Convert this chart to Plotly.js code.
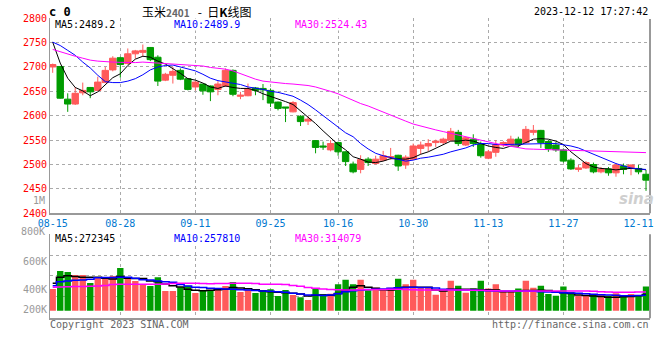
<!DOCTYPE html>
<html><head><meta charset="utf-8">
<script src="https://cdn.plot.ly/plotly-3.0.1.min.js"></script>
<style>html,body{margin:0;padding:0;background:#fff}#c{width:660px;height:360px}</style>
</head><body><div id="c"></div>
<script>
const dates = ['08-15','08-16','08-17','08-18','08-21','08-22','08-23','08-24','08-25','08-28','08-29','08-30','08-31',
 '09-01','09-04','09-05','09-06','09-07','09-08','09-11','09-12','09-13','09-14','09-15','09-18','09-19','09-20','09-21','09-22','09-25','09-26','09-27','09-28',
 '10-09','10-10','10-11','10-12','10-13','10-16','10-17','10-18','10-19','10-20','10-23','10-24','10-25','10-26','10-27','10-30','10-31',
 '11-01','11-02','11-03','11-06','11-07','11-08','11-09','11-10','11-13','11-14','11-15','11-16','11-17','11-20','11-21','11-22','11-23','11-24','11-27','11-28','11-29','11-30',
 '12-01','12-04','12-05','12-06','12-07','12-08','12-11','12-12'];
const open = [2700,2701,2634,2624,2647,2658,2652,2668,2694,2719, 2707,2727,2730,2740,2720,2673,2683,2693,2676,2659,
 2665,2661,2654,2661,2693,2640,2641,2657,2656,2652, 2628,2618,2608,2599,2589,2549,2538,2530,2545,2526,
 2501,2490,2511,2502,2509,2514,2519,2499,2511,2533, 2538,2545,2545,2550,2566,2540,2552,2543,2513,2525,
 2540,2541,2552,2545,2566,2570,2547,2540,2530,2509, 2490,2493,2500,2485,2491,2483,2497,2493,2492,2480];
const high = [2707,2702,2646,2659,2668,2659,2680,2700,2722,2721, 2738,2735,2746,2741,2724,2688,2700,2697,2677,2671,
 2665,2662,2671,2697,2695,2649,2666,2659,2665,2656, 2629,2618,2630,2601,2599,2550,2547,2550,2547,2527,
 2506,2519,2515,2518,2528,2534,2520,2519,2543,2547, 2552,2551,2555,2575,2571,2557,2562,2547,2530,2550,
 2548,2559,2557,2579,2581,2571,2550,2546,2533,2513, 2499,2507,2504,2495,2495,2502,2502,2500,2499,2489];
const low = [2688,2635,2608,2622,2642,2636,2651,2667,2691,2678, 2705,2717,2721,2712,2661,2671,2666,2673,2652,2652,
 2643,2630,2642,2659,2640,2634,2640,2642,2632,2618, 2611,2587,2607,2579,2581,2523,2530,2527,2518,2497,
 2482,2482,2497,2500,2507,2510,2487,2491,2509,2521, 2527,2536,2540,2548,2538,2538,2536,2514,2511,2516,
 2536,2540,2536,2543,2560,2534,2526,2526,2504,2489, 2485,2491,2482,2482,2477,2475,2480,2478,2480,2446];
const close = [2705,2636,2624,2646,2652,2649,2669,2693,2718,2705, 2727,2733,2734,2715,2671,2685,2691,2675,2654,2669,
 2651,2649,2665,2693,2644,2642,2655,2652,2653,2626, 2615,2616,2627,2588,2593,2535,2536,2543,2526,2506,
 2485,2510,2504,2511,2518,2516,2497,2515,2538,2540, 2543,2548,2552,2568,2543,2555,2543,2518,2526,2541,
 2545,2552,2541,2572,2570,2545,2533,2530,2507,2491, 2493,2504,2485,2491,2483,2499,2490,2499,2485,2468];
const ma5 = [2751,2708,2677,2658,2651,2641,2649,2663,2678,2686, 2703,2716,2722,2720,2712,2706,2697,2687,2676,2673,
 2667,2659,2656,2661,2658,2656,2656,2652,2645,2640, 2634,2629,2623,2610,2598,2584,2569,2555,2541,2530,
 2516,2511,2505,2504,2507,2512,2511,2511,2514,2521, 2526,2533,2541,2548,2548,2550,2548,2543,2538,2535,
 2533,2538,2538,2545,2552,2553,2552,2548,2541,2526, 2513,2502,2495,2492,2491,2489,2491,2492,2491,2489.2];
const ma10 = [2751,2744,2734,2724,2710,2698,2683,2670,2668,2668, 2671,2676,2684,2694,2700,2703,2704,2700,2696,2692,
 2685,2677,2672,2669,2666,2664,2659,2657,2654,2650, 2648,2644,2640,2632,2623,2612,2600,2588,2576,2565,
 2557,2543,2532,2523,2518,2514,2511,2507,2509,2513, 2515,2518,2521,2526,2530,2534,2540,2543,2543,2541,
 2541,2541.5,2541.5,2542.5,2543,2543,2543,2543,2541,2538, 2534,2527.5,2521,2514,2507,2502,2497,2493,2491,2489.9];
const ma30 = [2736,2731,2726,2722,2718,2714,2712,2710.5,2710,2709.5, 2709,2709,2710,2709,2708.5,2708,2707,2706,2705,2704,
 2702,2699,2697.5,2695.5,2692,2686,2680,2675,2671,2669, 2667,2666,2665,2664,2662,2659,2655,2650,2645,2638,
 2632,2625,2620,2613.5,2607,2601,2595,2589,2583,2578.5, 2574,2571,2567.5,2564,2560,2556,2552,2549,2545,2543,
 2540,2537,2535,2532,2531.5,2531,2530.5,2530,2529.5,2529, 2528.5,2528,2528,2528,2527.5,2527,2526,2525.5,2525,2524.43];
const volume = [365000,667000,650000,600000,600000,465000,561000,532000,583000,717000, 554000,499000,443000,415000,561000,331000,331000,393000,420000,297000,
 348000,348000,381000,415000,482000,314000,348000,297000,348000,359000, 247000,348000,264000,225000,180000,365000,276000,286000,444000,522000,
 444000,522000,342000,385000,360000,385000,535000,444000,522000,385000, 385000,270000,342000,504000,420000,300000,372000,504000,372000,444000,
 318000,318000,372000,504000,385000,420000,282000,252000,408000,312000, 252000,252000,282000,282000,252000,294000,252000,282000,252000,408000];
const vma5 = [460,560,588,575,561,560,562,545,532,575, 545,540,540,500,487,450,420,400,359,345,
 335,345,350,359,390,380,370,350,330,320, 310,300,292,280,245,260,264,260,290,348,
 393,420,395,376,350,348,380,392,393,393, 393,348,331,359,359,359,359,352,350,348,
 320,319,330,340,340,345,340,320,300,290, 264,255,247,240,225,228,235,240,252,272.345].map(v=>v*1000);
const vma10 = [420,487,500,510,516,530,554,556,556,560, 561,545,520,516,500,487,480,440,415,393,
 390,376,372,365,359,352,348,340,331,325, 319,310,292,280,264,264,255,265,285,319,
 335,348,355,359,365,376,385,390,393,390, 390,380,360,355,348,348,348,340,335,331,
 331,331,331,331,325,320,315,308,302,298, 292,285,275,270,264,260,252,252,255,257.81].map(v=>v*1000);
const vma30 = [393,400,403,405,408,412,415,425,440,443, 443,443,443,443,445,448,455,460,460,460,
 455,452,455,458,460,460,460,455,445,443, 443,440,425,410,390,376,365,355,350,348,
 348,350,352,355,357,359,359,355,350,348, 348,348,348,348,348,346,345,342,338,335,
 333,331,331,331,331,331,331,331,331,331, 331,330,325,320,315,312,312,312,313,314.079].map(v=>v*1000);
const priceTicks = [2400,2450,2500,2550,2600,2650,2700,2750,2800];
const labelDates = ['08-15','08-28','09-11','09-25','10-16','10-30','11-13','11-27','12-11'];
const gridDates = ['08-28','09-11','09-25','10-16','10-30','11-13','11-27'];
const volLabelVals = [835000,348000,12000];
const volLabelText = ['600K','400K','200K'];
const volGridVals = [242000,588000,930000,1283000];

const idx = dates.map((d,i)=>i);
const RED = '#ff5a5a', GREEN = '#009c00';
const volColors = close.map((c,i)=> c>=open[i] ? RED : GREEN);
const MONO = 'DejaVu Sans Mono';

const traces = [
 {type:'candlestick', x:idx, open:open, high:high, low:low, close:close, xaxis:'x', yaxis:'y',
  increasing:{line:{color:RED,width:1}, fillcolor:RED}, decreasing:{line:{color:GREEN,width:1}, fillcolor:GREEN},
  whiskerwidth:0, hoverinfo:'skip', showlegend:false},
 {type:'scatter', mode:'lines', x:idx, y:ma5, line:{color:'#000',width:1}, xaxis:'x', yaxis:'y', hoverinfo:'skip'},
 {type:'scatter', mode:'lines', x:idx, y:ma10, line:{color:'#0000ff',width:1}, xaxis:'x', yaxis:'y', hoverinfo:'skip'},
 {type:'scatter', mode:'lines', x:idx, y:ma30, line:{color:'#ff00ff',width:1}, xaxis:'x', yaxis:'y', hoverinfo:'skip'},
 {type:'bar', x:idx, y:volume, marker:{color:volColors, line:{width:0}}, xaxis:'x2', yaxis:'y3', hoverinfo:'skip'},
 {type:'scatter', mode:'lines', x:idx, y:vma5, line:{color:'#000',width:1.5,shape:'hvh'}, xaxis:'x2', yaxis:'y3', hoverinfo:'skip'},
 {type:'scatter', mode:'lines', x:idx, y:vma10, line:{color:'#0000ff',width:1.5,shape:'hvh'}, xaxis:'x2', yaxis:'y3', hoverinfo:'skip'},
 {type:'scatter', mode:'lines', x:idx, y:vma30, line:{color:'#ff00ff',width:1.5,shape:'hvh'}, xaxis:'x2', yaxis:'y3', hoverinfo:'skip'}
];

const W=660, H=360, L=50, R=10;
const px = v => (v-L)/(W-L-R);
const py = v => 1 - v/H;
const gridIdx = gridDates.map(d=>dates.indexOf(d));
const labelIdx = labelDates.map(d=>dates.indexOf(d));
const xr = [-0.36, 79.53];
const minorX = {tickmode:'array', tickvals:gridIdx, showgrid:true, gridcolor:'#aaa', griddash:'dot', gridwidth:1, ticks:''};

function ann(text,x,y,opts){return Object.assign({text:text, xref:'paper', yref:'paper', x:px(x), y:py(y), showarrow:false,
  xanchor:'left', yanchor:'middle', font:{family:MONO,size:10,color:'#000'}, borderpad:0}, opts||{});}

const layout = {
 width:W, height:H, margin:{l:L,r:R,t:0,b:0}, paper_bgcolor:'#fff', plot_bgcolor:'#fff',
 showlegend:false, hovermode:false, bargap:0.15, boxgap:0.15, boxgroupgap:0,
 font:{family:MONO,size:10},
 xaxis:{domain:[0,1], anchor:'y', range:xr, rangeslider:{visible:false}, showgrid:false, zeroline:false,
   showline:true, linecolor:'#999', linewidth:2, ticks:'', tickmode:'array', tickvals:labelIdx, ticktext:labelDates,
   tickfont:{family:MONO,size:10,color:'#0078d0'}, minor:minorX, fixedrange:true},
 yaxis:{domain:[py(213.3), py(18)], anchor:'x', range:[2400,2800.4], tickmode:'array', tickvals:priceTicks,
   showgrid:true, gridcolor:'#aaa', griddash:'dot', zeroline:false, showline:true, linecolor:'#999', linewidth:1,
   ticks:'', tickfont:{family:MONO,size:10,color:'#ff0000'}, fixedrange:true},
 xaxis2:{domain:[0,1], anchor:'y3', range:xr, showgrid:false, zeroline:false, showline:true, linecolor:'#999', linewidth:2,
   ticks:'', showticklabels:false, minor:minorX, fixedrange:true},
 yaxis3:{domain:[py(318.3), py(234.3)], anchor:'x2', range:[-127700,1283500], tickmode:'array', tickvals:volLabelVals, ticktext:volLabelText,
   showgrid:false, zeroline:false, showline:true, linecolor:'#999', linewidth:1, ticks:'',
   tickfont:{family:MONO,size:10,color:'#999'},
   minor:{tickmode:'array', tickvals:volGridVals, showgrid:true, gridcolor:'#aaa', griddash:'dot', gridwidth:1, ticks:''}, fixedrange:true},
 shapes:[
   {type:'line', xref:'paper', yref:'paper', x0:1, x1:1, y0:py(213.3), y1:py(19), line:{color:'#999',width:2}},
   {type:'line', xref:'paper', yref:'paper', x0:1, x1:1, y0:py(318.3), y1:py(234.3), line:{color:'#999',width:2}}
 ],
 annotations:[
   ann('<b>c 0</b>', 48, 12, {font:{family:MONO,size:12,color:'#000'}}),
   ann('玉米<b><span style="font-size:10px;color:#666">2401</span></b>&nbsp;&nbsp;&nbsp;-&nbsp;&nbsp;日<b>K</b>线图', 141, 11, {font:{family:'Noto Sans CJK SC',size:12,color:'#000'}}),
   ann('2023-12-12 17:27:42', 649, 12, {xanchor:'right'}),
   ann('MA5:2489.2', 54, 24.5, {bgcolor:'#fff'}),
   ann('MA10:2489.9', 173, 24.5, {bgcolor:'#fff', font:{family:MONO,size:10,color:'#0000ff'}}),
   ann('MA30:2524.43', 294, 24.5, {bgcolor:'#fff', font:{family:MONO,size:10,color:'#ff00ff'}}),
   ann('1M', 46, 200.7, {xanchor:'right', font:{family:MONO,size:10,color:'#999'}}),
   ann('800K', 46, 231, {xanchor:'right', font:{family:MONO,size:10,color:'#999'}}),
   ann('MA5:272345', 54, 238.5, {bgcolor:'#fff'}),
   ann('MA10:257810', 173, 238.5, {bgcolor:'#fff', font:{family:MONO,size:10,color:'#0000ff'}}),
   ann('MA30:314079', 294, 238.5, {bgcolor:'#fff', font:{family:MONO,size:10,color:'#ff00ff'}}),
   ann('Copyright 2023 SINA.COM', 49, 324.5, {font:{family:MONO,size:10,color:'#666'}}),
   ann('http://finance.sina.com.cn', 650, 324.5, {xanchor:'right', font:{family:MONO,size:10,color:'#666'}}),
   ann('<b><i>sina</i></b>', 636, 199, {xanchor:'center', font:{family:'DejaVu Sans',size:15,color:'#cfcfcf'}})
 ]
};
Plotly.newPlot('c', traces, layout, {staticPlot:true, displayModeBar:false});
</script></body></html>
